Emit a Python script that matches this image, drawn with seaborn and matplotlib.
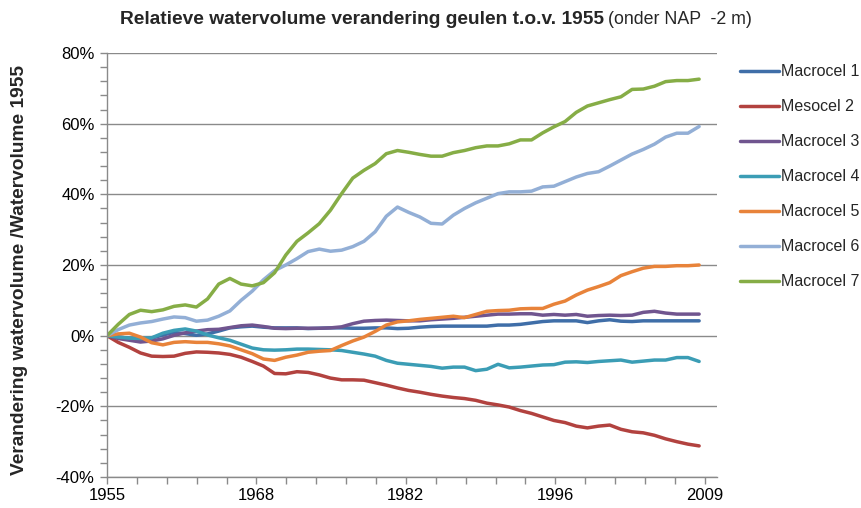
import numpy as np
import pandas as pd
import matplotlib
matplotlib.use("Agg")
import matplotlib.pyplot as plt
import seaborn as sns
from matplotlib.ticker import FixedLocator, FuncFormatter, MultipleLocator

# Relative change in channel water volume below NAP -2 m, relative to 1955 (%)
years = list(range(1955, 2009))

macrocel_1 = [0.0, -0.3, -0.8, -1.0, -0.7, 0.2, 0.9, 0.6, 0.1, 0.5,
              1.3, 2.2, 2.5, 2.7, 2.4, 2.2, 2.2, 2.2, 2.0, 2.1,
              2.2, 2.2, 2.1, 2.1, 2.2, 2.2, 2.0, 2.1, 2.4, 2.6,
              2.7, 2.7, 2.7, 2.7, 2.7, 3.0, 3.0, 3.2, 3.6, 4.0,
              4.2, 4.2, 4.2, 3.7, 4.2, 4.5, 4.1, 4.0, 4.2, 4.2,
              4.2, 4.2, 4.2, 4.2]
mesocel_2 = [0.0, -1.9, -3.3, -4.9, -5.8, -5.9, -5.8, -5.0, -4.6, -4.7,
             -4.9, -5.3, -6.1, -7.3, -8.6, -10.7, -10.8, -10.2, -10.4, -11.1,
             -12.0, -12.5, -12.5, -12.6, -13.3, -14.0, -14.8, -15.5, -16.0, -16.6,
             -17.1, -17.5, -17.8, -18.3, -19.1, -19.6, -20.2, -21.2, -22.0, -23.0,
             -24.0, -24.6, -25.6, -26.1, -25.6, -25.3, -26.5, -27.2, -27.5, -28.2,
             -29.2, -30.0, -30.7, -31.2]
macrocel_3 = [0.0, -0.8, -1.3, -1.8, -1.5, -0.9, 0.1, 0.8, 1.3, 1.7,
              1.8, 2.3, 2.8, 3.0, 2.6, 2.1, 2.0, 2.1, 2.1, 2.1,
              2.2, 2.5, 3.4, 4.1, 4.3, 4.4, 4.3, 4.2, 4.2, 4.5,
              4.7, 4.9, 5.2, 5.5, 5.8, 6.1, 6.1, 6.2, 6.2, 5.8,
              6.0, 5.8, 6.0, 5.5, 5.7, 5.8, 5.7, 5.8, 6.6, 6.9,
              6.4, 6.1, 6.1, 6.1]
macrocel_4 = [0.0, -0.4, -0.7, -0.8, -0.6, 0.7, 1.5, 1.9, 1.3, 0.2,
              -0.6, -1.3, -2.4, -3.5, -4.0, -4.1, -4.0, -3.8, -3.8, -3.9,
              -4.0, -4.2, -4.7, -5.2, -5.8, -7.0, -7.8, -8.1, -8.4, -8.7,
              -9.2, -8.9, -8.9, -9.9, -9.5, -8.1, -9.1, -8.9, -8.6, -8.3,
              -8.2, -7.5, -7.4, -7.6, -7.3, -7.1, -6.9, -7.5, -7.2, -6.9,
              -6.9, -6.2, -6.2, -7.3]
macrocel_5 = [0.0, 0.5, 0.7, -0.4, -2.0, -2.6, -1.9, -1.7, -1.9, -1.9,
              -2.3, -2.9, -4.0, -5.1, -6.6, -7.0, -6.1, -5.5, -4.7, -4.4,
              -4.2, -2.8, -1.5, -0.4, 1.2, 3.0, 3.9, 4.2, 4.6, 4.9,
              5.2, 5.5, 5.1, 6.0, 6.9, 7.1, 7.2, 7.6, 7.7, 7.7,
              8.9, 9.8, 11.5, 12.9, 13.9, 15.0, 17.0, 18.1, 19.1, 19.6,
              19.6, 19.8, 19.8, 20.0]
macrocel_6 = [0.0, 1.7, 3.0, 3.6, 4.0, 4.7, 5.3, 5.1, 4.1, 4.4,
              5.5, 7.0, 10.0, 12.6, 15.8, 18.4, 20.0, 21.8, 23.8, 24.5,
              23.9, 24.2, 25.2, 26.7, 29.4, 33.8, 36.4, 34.9, 33.6, 31.8,
              31.6, 34.1, 36.0, 37.6, 38.9, 40.2, 40.7, 40.7, 40.9, 42.1,
              42.3, 43.6, 44.9, 45.9, 46.4, 48.0, 49.7, 51.4, 52.7, 54.2,
              56.2, 57.3, 57.3, 59.2]
macrocel_7 = [0.0, 3.2, 6.0, 7.2, 6.8, 7.3, 8.3, 8.7, 8.1, 10.4,
              14.6, 16.2, 14.6, 14.1, 15.0, 17.8, 22.8, 26.7, 29.1, 31.7,
              35.5, 40.2, 44.6, 46.8, 48.7, 51.5, 52.4, 51.9, 51.3, 50.8,
              50.8, 51.8, 52.4, 53.2, 53.7, 53.7, 54.3, 55.4, 55.4, 57.4,
              59.1, 60.6, 63.2, 65.0, 65.9, 66.8, 67.6, 69.7, 69.8, 70.6,
              71.9, 72.2, 72.2, 72.6]

series_names = ["Macrocel 1", "Mesocel 2", "Macrocel 3", "Macrocel 4",
                "Macrocel 5", "Macrocel 6", "Macrocel 7"]
series_values = [macrocel_1, mesocel_2, macrocel_3, macrocel_4,
                 macrocel_5, macrocel_6, macrocel_7]
series_colors = ["#3F6EA8", "#B2423F", "#70558F", "#3B9DB5",
                 "#E8833A", "#93AFD6", "#86AD46"]

x_tick_labels = ["1955", "1968", "1982", "1996", "2009"]
y_ticks = [-40, -20, 0, 20, 40, 60, 80]

df = pd.DataFrame({
    "jaar": np.tile(years, len(series_names)),
    "cel": np.repeat(series_names, len(years)),
    "verandering": np.concatenate([np.asarray(v, float) / 100 for v in series_values]),
})

sns.set_theme(style="white")
plt.rcParams["font.family"] = ["Liberation Sans", "DejaVu Sans"]

fig = plt.figure(figsize=(8.61, 5.08), dpi=100)
ax = fig.add_axes([107 / 861, 1 - 477 / 508, (717 - 107) / 861, (477 - 53) / 508])

sns.lineplot(data=df, x="jaar", y="verandering", hue="cel",
             palette=dict(zip(series_names, series_colors)),
             hue_order=series_names, linewidth=2.5, ax=ax, legend=False)

# axes, grid and ticks
ax.set_xlim(1955, 2009.6)
ax.set_ylim(-0.40, 0.80)
ax.set_xlabel("")
ax.set_ylabel("")
for s in ["top", "right"]:
    ax.spines[s].set_visible(False)
for s in ["left", "bottom"]:
    ax.spines[s].set_color("#8a8a8a")
    ax.spines[s].set_linewidth(1.0)

ax.yaxis.set_major_locator(FixedLocator([v / 100 for v in y_ticks]))
ax.yaxis.set_major_formatter(FuncFormatter(lambda v, p: f"{int(round(v * 100))}%"))
ax.yaxis.set_minor_locator(MultipleLocator(0.04))
ax.grid(axis="y", color="#8a8a8a", linewidth=1.0)
ax.set_axisbelow(True)

# category-style year axis: five labelled ticks, twenty tick intervals
x_end = 2008.5
ax.xaxis.set_major_locator(FixedLocator(np.linspace(1955, x_end, 5)))
ax.set_xticklabels(x_tick_labels)
ax.xaxis.set_minor_locator(FixedLocator(np.linspace(1955, x_end, 21)))

ax.tick_params(axis="both", which="both", direction="out", color="#8a8a8a",
               length=5, width=1.0, labelsize=12, labelcolor="#000000")
ax.tick_params(axis="y", which="both", left=True, pad=4)
ax.tick_params(axis="x", which="both", bottom=True, pad=3)

# legend
handles = [plt.Line2D([], [], color=c, linewidth=2.5) for c in series_colors]
fig.legend(handles, series_names, loc="upper left",
           bbox_to_anchor=(734 / 861, 1 - 58 / 508), frameon=False,
           fontsize=11.5, handlelength=2.4, handletextpad=0.15,
           labelspacing=1.25, borderaxespad=0)

# y label and two-part title
fig.text(20 / 861, 1 - 270 / 508, "Verandering watervolume /Watervolume 1955",
         rotation=90, ha="center", va="center", fontsize=13.8, fontweight="bold")

t1 = fig.text(120 / 861, 1 - 20 / 508, "Relatieve watervolume verandering geulen t.o.v. 1955",
              ha="left", va="center", fontsize=13.8, fontweight="bold")
fig.canvas.draw()
bb = t1.get_window_extent(fig.canvas.get_renderer())
fig.text(bb.x1 / 861 + 4 / 861, 1 - 20 / 508, "(onder NAP  -2 m)",
         ha="left", va="center", fontsize=12.8)

fig.savefig("out.png", dpi=100)
